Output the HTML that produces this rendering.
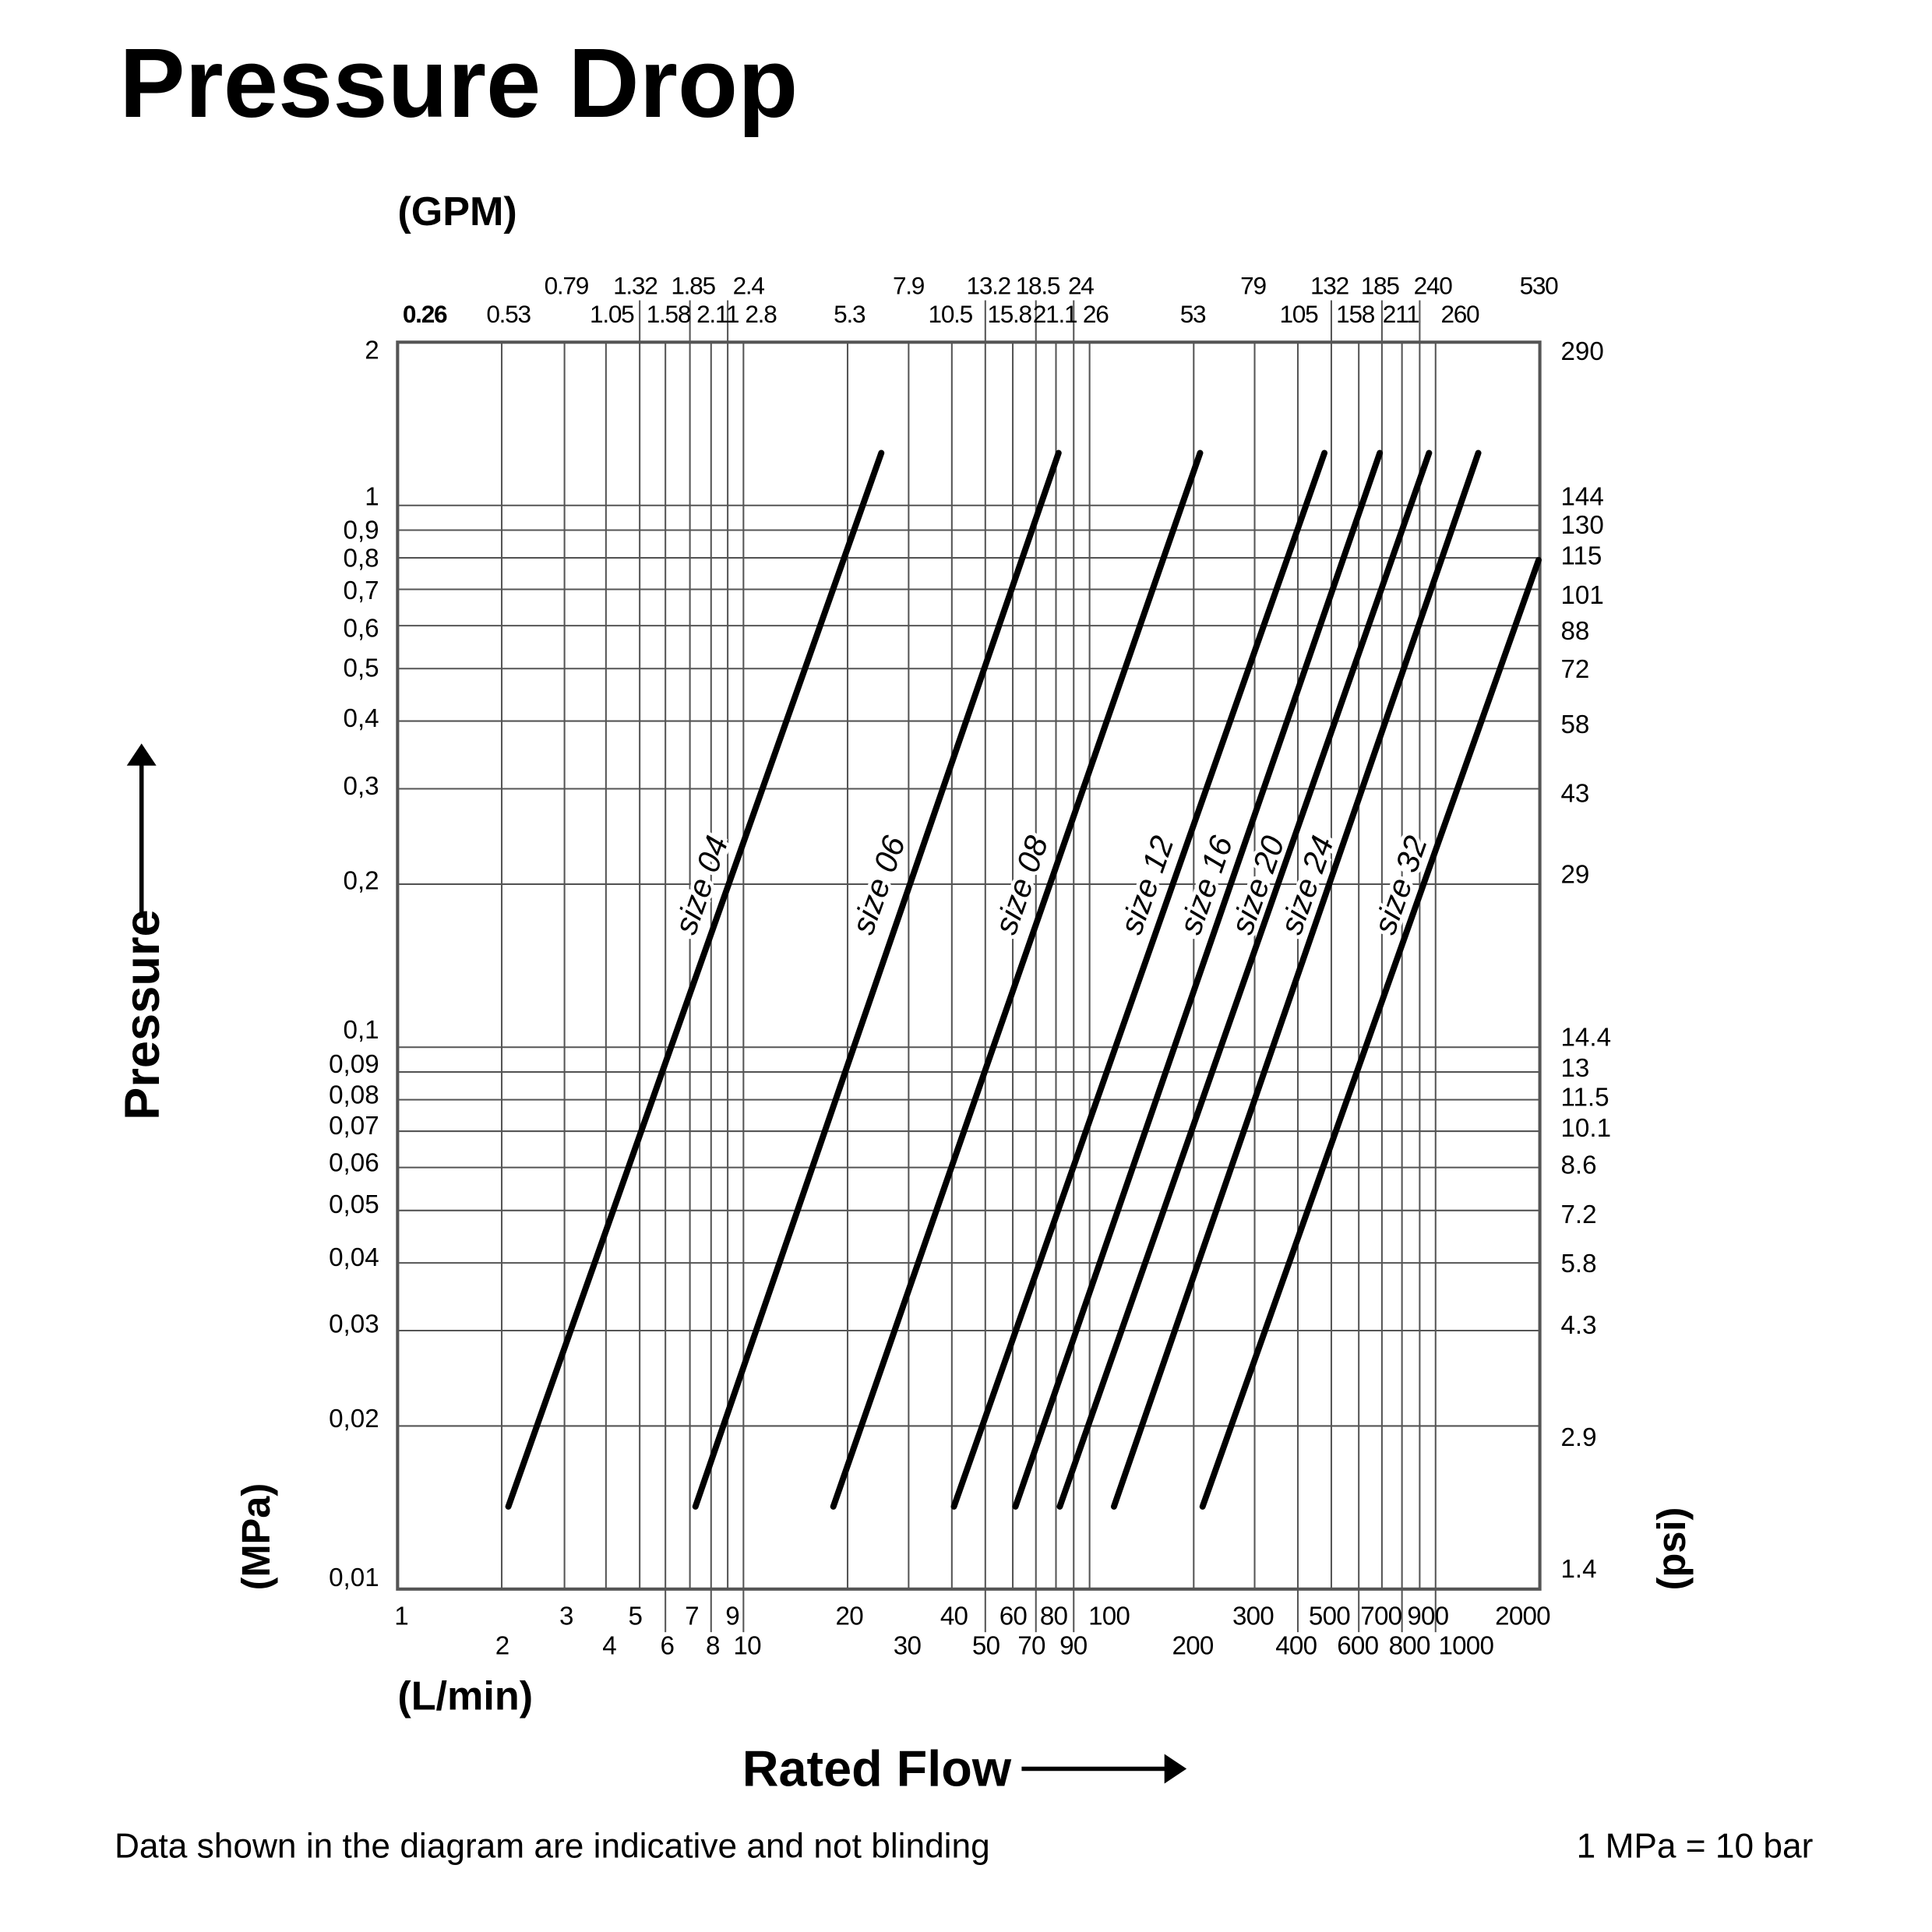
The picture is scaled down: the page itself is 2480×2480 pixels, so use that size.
<!DOCTYPE html>
<html><head><meta charset="utf-8"><style>
html,body{margin:0;padding:0;background:#fff}
svg{display:block}
text{font-family:"Liberation Sans",sans-serif;fill:#000}
</style></head><body>
<svg width="2480" height="2480" viewBox="0 0 1569.6 1569.6" xmlns="http://www.w3.org/2000/svg">
<text x="97" y="95" font-size="80" font-weight="bold">Pressure Drop</text>
<text x="323" y="183" font-size="33" font-weight="bold">(GPM)</text>
<g id="grid" stroke="#555" stroke-width="1.3" fill="none">
<path d="M407.6 278V1291M458.6 278V1291M492.3 278V1291M519.7 278V1291M540.6 278V1291M560.5 278V1291M577.7 278V1291M591.2 278V1291M604 278V1291
M688.6 278V1291M738.2 278V1291M773.3 278V1291M800.5 278V1291M822.8 278V1291M841.6 278V1291M857.9 278V1291M872.3 278V1291M885.2 278V1291
M969.8 278V1291M1019.3 278V1291M1054.4 278V1291M1081.6 278V1291M1103.9 278V1291M1122.7 278V1291M1139 278V1291M1153.4 278V1291M1166.3 278V1291"/>
<path d="M519.7 278V244M560.5 278V244M591.2 278V244M800.5 278V244M841.6 278V244M872.3 278V244M1081.6 278V244M1122.7 278V244M1153.4 278V244"/>
<path d="M540.6 1291V1326M577.7 1291V1326M604 1291V1326M800.5 1291V1326M841.6 1291V1326M872.3 1291V1326M1054.4 1291V1326M1103.9 1291V1326M1139 1291V1326M1166.3 1291V1326"/>
<path d="M323 410.6H1251M323 430.7H1251M323 453.2H1251M323 478.8H1251M323 508.3H1251M323 543.2H1251M323 585.8H1251M323 640.8H1251M323 718.3H1251
M323 850.8H1251M323 870.9H1251M323 893.4H1251M323 919H1251M323 948.5H1251M323 983.4H1251M323 1026H1251M323 1081H1251M323 1158.5H1251"/>
<rect x="323" y="278" width="928" height="1013" stroke-width="2.6"/>
</g>
<g stroke="#000" stroke-width="5" stroke-linecap="round">
<line x1="413" y1="1224" x2="716" y2="368"/>
<line x1="565" y1="1224" x2="860" y2="368"/>
<line x1="677" y1="1224" x2="975" y2="368"/>
<line x1="775" y1="1224" x2="1076" y2="368"/>
<line x1="825" y1="1224" x2="1121" y2="368"/>
<line x1="861" y1="1224" x2="1161" y2="368"/>
<line x1="905" y1="1224" x2="1201" y2="368"/>
<line x1="977" y1="1224" x2="1250" y2="455"/>
</g>
<g font-size="26" font-style="italic" text-anchor="middle" stroke="#fff" stroke-width="6" paint-order="stroke" style="fill:#000">
<text transform="translate(578,722) rotate(-70.5)">size 04</text>
<text transform="translate(722,722) rotate(-70.5)">size 06</text>
<text transform="translate(838,722) rotate(-70.5)">size 08</text>
<text transform="translate(940,722) rotate(-70.5)">size 12</text>
<text transform="translate(988,722) rotate(-70.5)">size 16</text>
<text transform="translate(1030,722) rotate(-70.5)">size 20</text>
<text transform="translate(1070,722) rotate(-70.5)">size 24</text>
<text transform="translate(1146,722) rotate(-70.5)">size 32</text>
</g>
<g font-size="21" text-anchor="end" dominant-baseline="middle">
<text x="308" y="286">2</text><text x="308" y="405">1</text><text x="308" y="432">0,9</text><text x="308" y="455">0,8</text>
<text x="308" y="481">0,7</text><text x="308" y="512">0,6</text><text x="308" y="544">0,5</text><text x="308" y="585">0,4</text>
<text x="308" y="640">0,3</text><text x="308" y="717">0,2</text><text x="308" y="838">0,1</text><text x="308" y="866">0,09</text>
<text x="308" y="891">0,08</text><text x="308" y="916">0,07</text><text x="308" y="946">0,06</text><text x="308" y="980">0,05</text>
<text x="308" y="1023">0,04</text><text x="308" y="1077">0,03</text><text x="308" y="1154">0,02</text><text x="308" y="1283">0,01</text>
</g>
<g font-size="21" dominant-baseline="middle">
<text x="1268" y="287">290</text><text x="1268" y="405">144</text><text x="1268" y="428">130</text><text x="1268" y="453">115</text>
<text x="1268" y="485">101</text><text x="1268" y="514">88</text><text x="1268" y="545">72</text><text x="1268" y="590">58</text>
<text x="1268" y="646">43</text><text x="1268" y="712">29</text><text x="1268" y="844">14.4</text><text x="1268" y="869">13</text>
<text x="1268" y="893">11.5</text><text x="1268" y="918">10.1</text><text x="1268" y="948">8.6</text><text x="1268" y="988">7.2</text>
<text x="1268" y="1028">5.8</text><text x="1268" y="1078">4.3</text><text x="1268" y="1169">2.9</text><text x="1268" y="1276">1.4</text>
</g>
<g font-size="21" text-anchor="middle" letter-spacing="-0.5">
<text x="326" y="1320">1</text><text x="460" y="1320">3</text><text x="516" y="1320">5</text><text x="562" y="1320">7</text>
<text x="595" y="1320">9</text><text x="690" y="1320">20</text><text x="775" y="1320">40</text><text x="823" y="1320">60</text>
<text x="856" y="1320">80</text><text x="901" y="1320">100</text><text x="1018" y="1320">300</text><text x="1080" y="1320">500</text>
<text x="1122" y="1320">700</text><text x="1160" y="1320">900</text><text x="1237" y="1320">2000</text>
<text x="408" y="1344">2</text><text x="495" y="1344">4</text><text x="542" y="1344">6</text><text x="579" y="1344">8</text>
<text x="607" y="1344">10</text><text x="737" y="1344">30</text><text x="801" y="1344">50</text><text x="838" y="1344">70</text>
<text x="872" y="1344">90</text><text x="969" y="1344">200</text><text x="1053" y="1344">400</text><text x="1103" y="1344">600</text>
<text x="1145" y="1344">800</text><text x="1191" y="1344">1000</text>
</g>
<g font-size="20" text-anchor="middle" letter-spacing="-0.8">
<text x="345" y="262" font-weight="bold">0.26</text><text x="413" y="262">0.53</text><text x="497" y="262">1.05</text>
<text x="543" y="262">1.58</text><text x="583" y="262">2.11</text><text x="618" y="262">2.8</text><text x="690" y="262">5.3</text>
<text x="772" y="262">10.5</text><text x="820" y="262">15.8</text><text x="857" y="262">21.1</text><text x="890" y="262">26</text>
<text x="969" y="262">53</text><text x="1055" y="262">105</text><text x="1101" y="262">158</text><text x="1138" y="262">211</text>
<text x="1186" y="262">260</text>
<text x="460" y="239">0.79</text><text x="516" y="239">1.32</text><text x="563" y="239">1.85</text><text x="608" y="239">2.4</text>
<text x="738" y="239">7.9</text><text x="803" y="239">13.2</text><text x="843" y="239">18.5</text><text x="878" y="239">24</text>
<text x="1018" y="239">79</text><text x="1080" y="239">132</text><text x="1121" y="239">185</text><text x="1164" y="239">240</text>
<text x="1250" y="239">530</text>
</g>
<text x="323" y="1389" font-size="33" font-weight="bold">(L/min)</text>
<text x="603" y="1451" font-size="41" font-weight="bold">Rated Flow</text>
<line x1="830" y1="1437" x2="950" y2="1437" stroke="#000" stroke-width="3.5"/>
<polygon points="946,1425 964,1437 946,1449" fill="#000"/>
<text transform="translate(129,910) rotate(-90)" font-size="40" font-weight="bold">Pressure</text>
<line x1="115" y1="742" x2="115" y2="618" stroke="#000" stroke-width="3.5"/>
<polygon points="103,622 115,604 127,622" fill="#000"/>
<text transform="translate(219,1292) rotate(-90)" font-size="32" font-weight="bold">(MPa)</text>
<text transform="translate(1369,1292) rotate(-90)" font-size="32" font-weight="bold">(psi)</text>
<text x="93" y="1509" font-size="28">Data shown in the diagram are indicative and not blinding</text>
<text x="1473" y="1509" font-size="28" text-anchor="end">1 MPa = 10 bar</text>
</svg>
</body></html>
